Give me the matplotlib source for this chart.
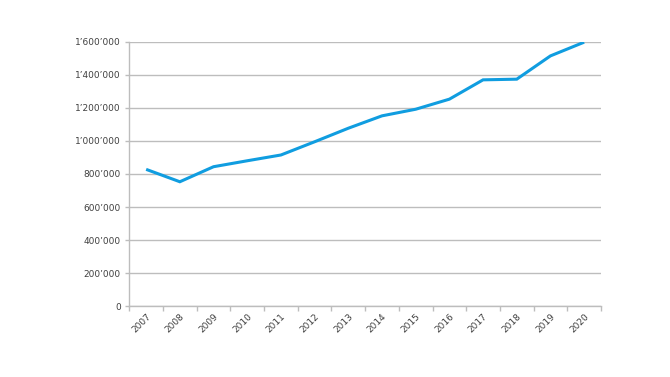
import numpy as np
import matplotlib
matplotlib.use('Agg')
import matplotlib.pyplot as plt
from matplotlib.ticker import FuncFormatter, FixedLocator

years = ['2007', '2008', '2009', '2010', '2011', '2012', '2013',
         '2014', '2015', '2016', '2017', '2018', '2019', '2020']
values = [828000, 753000, 844000, 880000, 915000, 995000, 1077000,
          1152000, 1192000, 1253000, 1370000, 1374000, 1515000, 1598000]
y_ticks = [0, 200000, 400000, 600000, 800000, 1000000, 1200000, 1400000, 1600000]

LINE_COLOR = '#109de0'
GRID_COLOR = '#bdbdbd'
TEXT_COLOR = '#404040'


def fmt_swiss(v, _pos=None):
    return f'{int(v):,}'.replace(',', '\u2019')


plt.rcParams.update({'font.family': 'DejaVu Sans', 'font.size': 6.5})

fig = plt.figure(figsize=(6.7, 3.77), dpi=100)
ax = fig.add_axes([0.193, 0.188, 0.704, 0.701])

x = np.arange(len(years))
ax.plot(x, values, color=LINE_COLOR, linewidth=2.2, solid_capstyle='butt',
        solid_joinstyle='miter', zorder=3)

ax.set_xlim(-0.5, len(years) - 0.5)
ax.set_ylim(0, 1600000)

ax.set_yticks(y_ticks)
ax.yaxis.set_major_formatter(FuncFormatter(fmt_swiss))
ax.grid(axis='y', color=GRID_COLOR, linewidth=1.0, zorder=0)
ax.set_axisbelow(True)

ax.set_xticks(x)
ax.set_xticklabels(years, rotation=45, ha='right', rotation_mode='anchor')
ax.xaxis.set_minor_locator(FixedLocator(np.arange(-0.5, len(years), 1.0)))
ax.tick_params(axis='x', which='major', length=0, pad=4.5, colors=TEXT_COLOR)
ax.tick_params(axis='x', which='minor', length=3.5, color=GRID_COLOR, width=1)
ax.tick_params(axis='y', length=3, color=GRID_COLOR, width=1, pad=3,
               labelcolor=TEXT_COLOR)

for side in ('top', 'right'):
    ax.spines[side].set_visible(False)
for side in ('left', 'bottom'):
    ax.spines[side].set_color(GRID_COLOR)
    ax.spines[side].set_linewidth(1.0)

fig.savefig('out.png', dpi=100)
